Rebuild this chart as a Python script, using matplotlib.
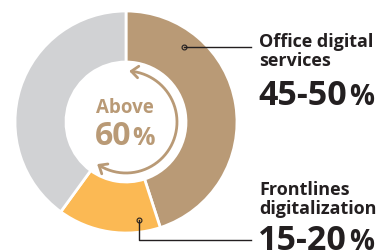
import numpy as np
import matplotlib
matplotlib.use("Agg")
import matplotlib.pyplot as plt

categories = ["Office digital services", "Frontlines digitalization", "Other"]
values = [45, 15, 40]
colors = ["#B99A76", "#FBB954", "#D1D2D4"]
label_titles = [["Office digital", "services"], ["Frontlines", "digitalization"]]
label_values = ["45-50", "15-20"]
center_text = ["Above", "60"]

W, H = 383, 253
fig = plt.figure(figsize=(W / 100, H / 100), dpi=100)
ax = fig.add_axes([0, 0, 1, 1])

cx, cy = 126, H - 123
R, r_in = 111, 60
ax.pie(values, colors=colors, startangle=90, counterclock=False,
       center=(cx, cy), radius=R,
       wedgeprops=dict(width=R - r_in, edgecolor="white", linewidth=2))
ax.set_xlim(0, W)
ax.set_ylim(0, H)
ax.set_aspect("equal")
ax.axis("off")

brown = "#B99A76"
dark = "#231F20"
font = "Open Sans"

# double-headed arc inside the donut
ra = 51
a0, a1 = 82, -120  # math angles (deg), going clockwise
th = np.radians(np.linspace(a0, a1, 200))
ax.plot(cx + ra * np.cos(th), cy + ra * np.sin(th), color=brown, lw=2, solid_capstyle="butt")

def chevron(angle_deg, sign):
    t = np.radians(angle_deg)
    tip = np.array([cx + ra * np.cos(t), cy + ra * np.sin(t)])
    d = sign * np.array([-np.sin(t), np.cos(t)])
    L = 9
    for rot in (np.radians(40), -np.radians(40)):
        rv = np.array([np.cos(rot) * -d[0] - np.sin(rot) * -d[1],
                       np.sin(rot) * -d[0] + np.cos(rot) * -d[1]])
        p = tip + L * rv
        ax.plot([tip[0], p[0]], [tip[1], p[1]], color=brown, lw=2, solid_capstyle="round")

chevron(a0 + 2, +1)
chevron(a1 - 2, -1)

renderer = fig.canvas.get_renderer()

def num_pct(x, base, num, size, psize, color, gap):
    t = ax.text(x, H - base, num, ha="left", va="baseline", color=color,
                fontsize=size, fontweight="bold", family=font)
    bb = t.get_window_extent(renderer=renderer)
    ax.text(bb.x1 + gap, H - base, "%", ha="left", va="baseline", color=color,
            fontsize=psize, fontweight="bold", family=font)

ax.text(125, H - 113, center_text[0], ha="center", va="baseline", color=brown,
        fontsize=13.5, fontweight="bold", family=font)
num_pct(95, 145, center_text[1], 23, 18, brown, 1)

# leader lines
ax.plot([184, 251], [H - 48, H - 48], color=dark, lw=1)
ax.plot([184], [H - 48], marker="o", ms=3.5, mfc="none", mec=dark, mew=0.8)
ax.plot([139, 139, 251], [H - 221, H - 241, H - 241], color=dark, lw=1)
ax.plot([139], [H - 221], marker="o", ms=3.5, mfc="none", mec=dark, mew=0.8)

# labels
tx = 259
for lines, base in ((label_titles[0], 47), (label_titles[1], 195)):
    for i, ln in enumerate(lines):
        ax.text(tx, H - (base + 19 * i), ln, ha="left", va="baseline", color=dark,
                fontsize=13, fontweight="bold", family=font)

for val, base in ((label_values[0], 105), (label_values[1], 250)):
    num_pct(tx - 1, base, val, 24.5, 20, dark, 2)

fig.savefig("out.png", dpi=100)
